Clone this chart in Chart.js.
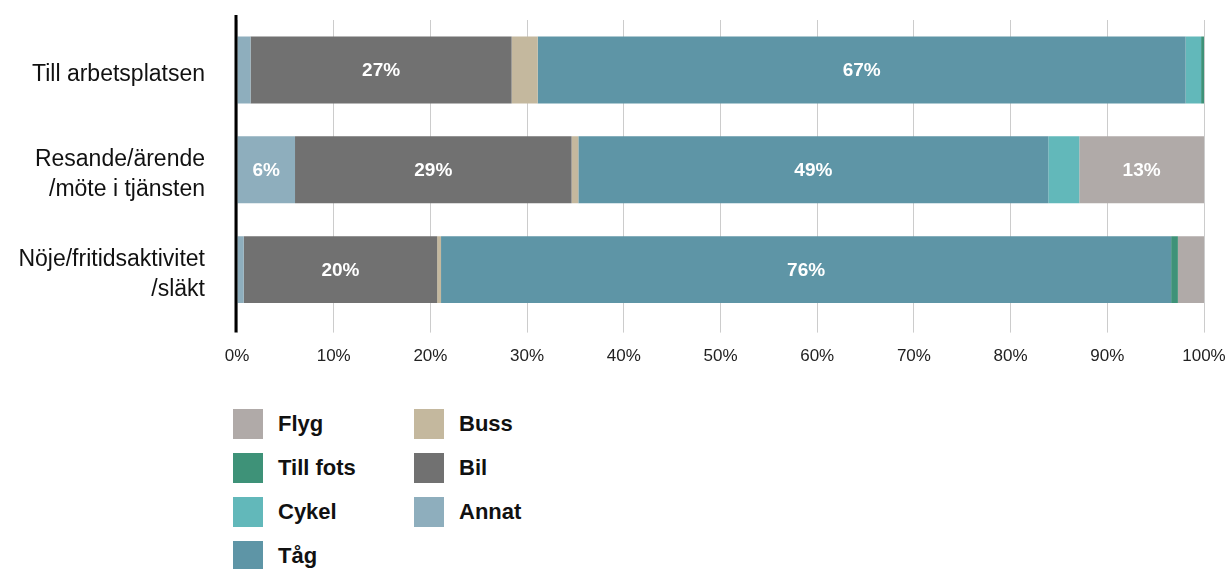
<!DOCTYPE html>
<html>
<head>
<meta charset="utf-8">
<script src="https://cdn.jsdelivr.net/npm/chart.js@4.4.0/dist/chart.umd.min.js"></script>
<style>
    body { margin: 0; background: #fff; font-family: 'Liberation Sans', Arial, sans-serif; }
    #wrap { position: relative; width: 1227px; height: 569px; }
    #chart { position: absolute; left: 0; top: 0; }
    #legend {
        position: absolute; left: 233px; top: 402px;
        display: grid; grid-template-rows: repeat(4, 44px); grid-auto-flow: column;
        grid-template-columns: 181px 181px;
    }
    .item { display: flex; align-items: center; font-weight: bold; font-size: 22px; color: #111; }
    .box { width: 30px; height: 30px; margin-right: 15px; }
</style>
</head>
<body>
<div id="wrap">
    <canvas id="chart" width="1227" height="381"></canvas>
    <div id="legend"></div>
</div>
<script>
const categories = [
    'Till arbetsplatsen',
    ['Resande/ärende', '/möte i tjänsten'],
    ['Nöje/fritidsaktivitet', '/släkt']
];
// stacking order left to right
const seriesNames = ['Annat', 'Bil', 'Buss', 'Tåg', 'Cykel', 'Till fots', 'Flyg'];
const annat = [1.4, 6.0, 0.7];
const bil = [27.0, 28.6, 20.0];
const buss = [2.7, 0.7, 0.4];
const tag = [67.0, 48.6, 75.5];
const cykel = [1.6, 3.2, 0.0];
const tillFots = [0.3, 0.0, 0.7];
const flyg = [0.0, 12.9, 2.7];
const tickValues = [0, 10, 20, 30, 40, 50, 60, 70, 80, 90, 100];

const colors = {
    'Annat': '#8eaebd',
    'Bil': '#717171',
    'Buss': '#c4b89e',
    'Tåg': '#5e95a6',
    'Cykel': '#62b8ba',
    'Till fots': '#3e9278',
    'Flyg': '#b0aaa8'
};
const seriesData = [annat, bil, buss, tag, cykel, tillFots, flyg];

// white percentage labels in the bigger segments
const barLabels = {
    id: 'barLabels',
    afterDatasetsDraw(chart) {
        const ctx = chart.ctx;
        ctx.save();
        ctx.font = 'bold 19px "Liberation Sans", Arial, sans-serif';
        ctx.fillStyle = '#ffffff';
        ctx.textAlign = 'center';
        ctx.textBaseline = 'middle';
        chart.data.datasets.forEach((ds, i) => {
            chart.getDatasetMeta(i).data.forEach((bar, j) => {
                const v = ds.data[j];
                if (v >= 5) {
                    const x = (bar.x + bar.base) / 2;
                    ctx.fillText(Math.round(v) + '%', x, bar.y + 1);
                }
            });
        });
        ctx.restore();
    }
};

// black vertical axis, a bit longer than the plot area
const axisLine = {
    id: 'axisLine',
    afterDraw(chart) {
        const a = chart.chartArea;
        const ctx = chart.ctx;
        ctx.save();
        ctx.strokeStyle = '#000';
        ctx.lineWidth = 3;
        ctx.beginPath();
        ctx.moveTo(a.left - 1, a.top - 5);
        ctx.lineTo(a.left - 1, a.bottom + 13);
        ctx.stroke();
        ctx.restore();
    }
};

const chart = new Chart(document.getElementById('chart').getContext('2d'), {
    type: 'bar',
    data: {
        labels: categories,
        datasets: seriesNames.map((name, i) => ({
            label: name,
            data: seriesData[i],
            backgroundColor: colors[name],
            borderWidth: 0,
            barPercentage: 0.67,
            categoryPercentage: 1.0
        }))
    },
    options: {
        indexAxis: 'y',
        responsive: false,
        animation: false,
        layout: { padding: { top: 20, right: 23, left: 0, bottom: 0 } },
        scales: {
            x: {
                stacked: true,
                min: 0,
                max: 100,
                afterBuildTicks: function(scale) {
                    scale.ticks = tickValues.map(v => ({ value: v }));
                },
                afterFit: function(scale) {
                    scale.paddingLeft = 0;
                    scale.paddingRight = 0;
                },
                ticks: {
                    callback: function(value) { return value + '%'; },
                    color: '#222',
                    font: { size: 17, family: '"Liberation Sans", Arial, sans-serif' },
                    padding: 14,
                    maxRotation: 0
                },
                grid: {
                    color: '#cccccc',
                    lineWidth: 1,
                    tickLength: 13,
                    tickColor: '#cccccc'
                },
                border: { display: false }
            },
            y: {
                stacked: true,
                afterFit: function(scale) {
                    scale.width = 237;
                    scale.paddingTop = 0;
                    scale.paddingBottom = 0;
                },
                ticks: {
                    color: '#111',
                    font: { size: 23, family: '"Liberation Sans", Arial, sans-serif', lineHeight: 1.3 },
                    padding: 24,
                    labelOffset: 5
                },
                grid: { display: false },
                border: { display: false }
            }
        },
        plugins: {
            legend: { display: false },
            tooltip: { enabled: false }
        }
    },
    plugins: [barLabels, axisLine]
});

// legend in two columns, reverse of stacking order
const legend = document.getElementById('legend');
seriesNames.slice().reverse().forEach(name => {
    const item = document.createElement('div');
    item.className = 'item';
    item.innerHTML = '<span class="box" style="background:' + colors[name] + '"></span>' + name;
    legend.appendChild(item);
});
</script>
</body>
</html>
